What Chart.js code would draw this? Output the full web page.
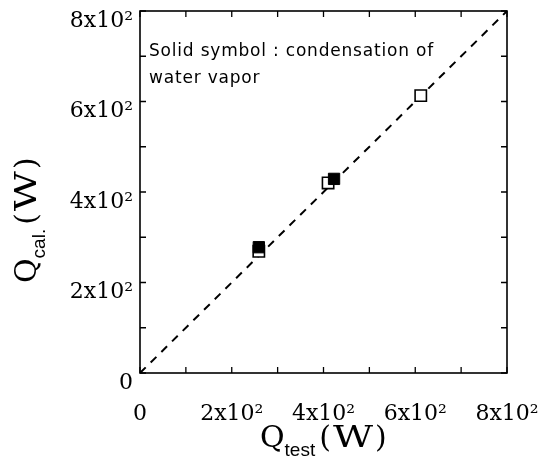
<!DOCTYPE html>
<html><head><meta charset="utf-8">
<script src="https://cdn.jsdelivr.net/npm/chart.js@4"></script>
<style>html,body{margin:0;padding:0;background:#fff}#wrap{width:545px;height:473px}</style>
</head><body><div id="wrap"><canvas id="c" width="545" height="473"></canvas></div>
<script>
const openX = [259, 410, 612];
const openY = [269, 420, 613];
const solidX = [259, 423];
const solidY = [278, 429];
const lineX = [0, 800];
const lineY = [0, 800];
const tickValues = [0, 200, 400, 600, 800];
const tickLabels = ['0', '2x10²', '4x10²', '6x10²', '8x10²'];
const minorStep = 100;
const noteLines = ['Solid symbol : condensation of', 'water vapor'];
const xTitle = ['Q', 'test', '(W)'];
const yTitle = ['Q', 'cal.', '(W)'];

const pts = (xs, ys) => xs.map((x, i) => ({x, y: ys[i]}));
const labelFor = v => { const i = tickValues.indexOf(v); return i >= 0 ? tickLabels[i] : ''; };

function drawTitle(ctx, parts, x, base) {
  ctx.font = '30px "DejaVu Serif"';
  ctx.fillText(parts[0], x, base);
  x += ctx.measureText(parts[0]).width;
  ctx.font = '19px "Liberation Sans"';
  ctx.fillText(parts[1], x, base + 9);
  x += ctx.measureText(parts[1]).width + 4;
  ctx.font = '30px "DejaVu Serif"';
  const p = parts[2];
  ctx.fillText(p[0], x, base); x += ctx.measureText(p[0]).width + 2;
  ctx.save(); ctx.translate(x, base); ctx.scale(1.3, 1); ctx.fillText(p[1], 0, 0); ctx.restore();
  x += ctx.measureText(p[1]).width * 1.3 + 2;
  ctx.fillText(p[2], x, base);
}

const frame = {
  id: 'frame',
  afterDraw(chart) {
    const {ctx, chartArea: a, scales: {x, y}} = chart;
    ctx.save();
    ctx.strokeStyle = '#000'; ctx.fillStyle = '#000';
    ctx.lineWidth = 1.6;
    ctx.strokeRect(a.left, a.top, a.right - a.left, a.bottom - a.top);
    ctx.lineWidth = 1.3;
    ctx.beginPath();
    for (let v = 0; v <= 800; v += minorStep) {
      const px = x.getPixelForValue(v), py = y.getPixelForValue(v);
      ctx.moveTo(px, a.bottom); ctx.lineTo(px, a.bottom - 6);
      ctx.moveTo(px, a.top); ctx.lineTo(px, a.top + 6);
      ctx.moveTo(a.left, py); ctx.lineTo(a.left + 6, py);
      ctx.moveTo(a.right, py); ctx.lineTo(a.right - 6, py);
    }
    ctx.stroke();
    ctx.textBaseline = 'alphabetic'; ctx.textAlign = 'left';
    ctx.font = '17px "DejaVu Sans"';
    ctx.letterSpacing = '0.8px';
    ctx.fillText(noteLines[0], 149, 56);
    ctx.fillText(noteLines[1], 149, 83);
    ctx.letterSpacing = '0px';
    drawTitle(ctx, xTitle, 260, 447);
    ctx.save(); ctx.rotate(-Math.PI / 2);
    drawTitle(ctx, yTitle, -283, 36);
    ctx.restore();
    ctx.restore();
  }
};

const axisCommon = {
  type: 'linear', min: 0, max: 800,
  grid: {display: false, drawTicks: false},
  border: {display: false},
  ticks: {stepSize: 200, autoSkip: false, maxRotation: 0, color: '#000',
    font: {family: 'DejaVu Serif', size: 22}, callback: v => labelFor(v)}
};

new Chart(document.getElementById('c'), {
  type: 'scatter',
  data: {datasets: [
    {label: 'solid', data: pts(solidX, solidY), pointStyle: 'rect', pointRadius: 8,
      backgroundColor: '#000', borderColor: '#000', borderWidth: 1},
    {label: 'open', data: pts(openX, openY), pointStyle: 'rect', pointRadius: 8,
      backgroundColor: '#fff', borderColor: '#000', borderWidth: 1.6},
    {label: 'fit', type: 'line', data: pts(lineX, lineY), borderColor: '#000', borderWidth: 2,
      borderDash: [8, 7], pointRadius: 0, fill: false}
  ]},
  options: {
    responsive: false, animation: false, devicePixelRatio: 1,
    layout: {padding: {top: 11, right: 38, left: 0, bottom: 0}},
    plugins: {legend: {display: false}, tooltip: {enabled: false}},
    scales: {
      x: {...axisCommon, ticks: {...axisCommon.ticks, padding: 28},
        afterFit: s => { s.height = 100; s.paddingLeft = 0; s.paddingRight = 0; }},
      y: {...axisCommon, ticks: {...axisCommon.ticks, padding: 7, labelOffset: 10},
        afterFit: s => { s.width = 140; s.paddingTop = 0; s.paddingBottom = 0; }}
    }
  },
  plugins: [frame]
});
</script></body></html>
